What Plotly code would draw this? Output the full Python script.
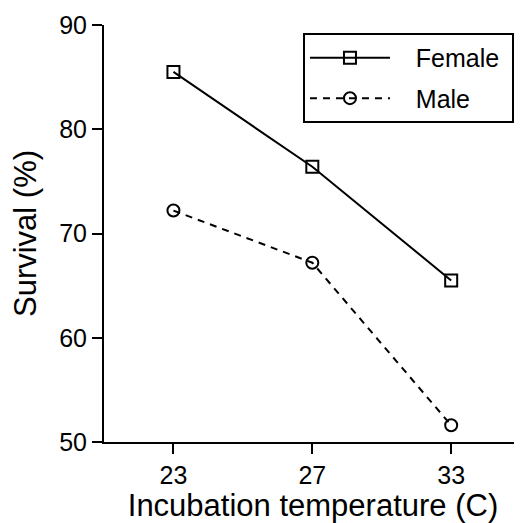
import plotly.graph_objects as go

temps = ["23", "27", "33"]
female = [85.5, 76.4, 65.5]
male = [72.2, 67.2, 51.6]
y_ticks = [50, 60, 70, 80, 90]
series_names = ["\u00a0\u00a0\u00a0Female\u00a0", "\u00a0\u00a0\u00a0Male"]

fig = go.Figure()
fig.add_trace(go.Scatter(
    x=temps, y=female, name=series_names[0], mode="lines+markers",
    line=dict(color="black", width=2),
    marker=dict(symbol="square-open", size=12, color="black", line=dict(width=2)),
    legendgroup="f",
))
fig.add_trace(go.Scatter(
    x=temps, y=male, name=series_names[1], mode="lines+markers",
    line=dict(color="black", width=2, dash="7px,6px"),
    marker=dict(symbol="circle-open", size=12, color="black", line=dict(width=2)),
    legendgroup="m",
))

font = "Liberation Sans, Arial, sans-serif"
fig.update_layout(
    width=514, height=515,
    margin=dict(l=96, r=0, t=17, b=81),
    paper_bgcolor="white", plot_bgcolor="white",
    font=dict(family=font, color="black", size=20),
    showlegend=True,
    legend=dict(
        x=0.476, y=0.981, xanchor="left", yanchor="top",
        bordercolor="black", borderwidth=2, bgcolor="white",
        font=dict(size=25), itemwidth=80, tracegroupgap=5,
    ),
    xaxis=dict(
        type="category", range=[-0.5, 2.51],
        showline=True, linecolor="black", linewidth=2,
        ticks="outside", ticklen=10, tickwidth=2, tickcolor="black",
        showgrid=False, zeroline=False,
        tickfont=dict(size=25),
        title=dict(text="Incubation temperature (C)", font=dict(size=31), standoff=8),
    ),
    yaxis=dict(
        range=[50, 90], tickvals=y_ticks,
        showline=True, linecolor="black", linewidth=2,
        ticks="outside", ticklen=10, tickwidth=2, tickcolor="black",
        showgrid=False, zeroline=False,
        tickfont=dict(size=25),
        title=dict(text="Survival (%)", font=dict(size=31), standoff=26),
    ),
)
fig.write_html("out.html")
